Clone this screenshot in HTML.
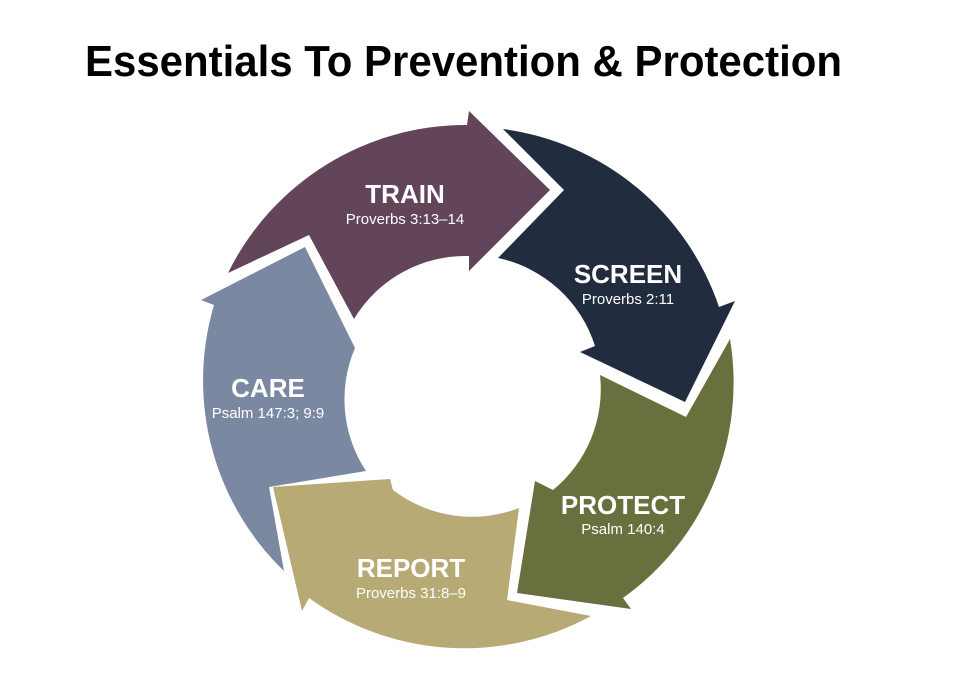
<!DOCTYPE html>
<html><head><meta charset="utf-8"><style>
html,body{margin:0;padding:0;background:#fff;}
svg{display:block;}
text{font-family:"Liberation Sans",sans-serif;}
</style></head><body>
<svg width="958" height="693" viewBox="0 0 958 693" xmlns="http://www.w3.org/2000/svg">
<rect width="958" height="693" fill="#fff"/>
<text x="85" y="76" font-size="44" font-weight="bold" fill="#000" textLength="757" lengthAdjust="spacingAndGlyphs">Essentials To Prevention &amp; Protection</text>

<path d="M228,273 A265 265 0 0 1 467,125 L469,111 L550,190 L469,271 L469,256 A130 130 0 0 0 354,319 L309,235 Z" fill="#624559"/>
<path d="M503,129 A265 265 0 0 1 719,307 L735,301 L685,402 L580,352 L595,346 A130 130 0 0 0 498,258 L564,190 Z" fill="#222c3f"/>
<path d="M730,339 L686,417 L600,375 A130 130 0 0 1 553,490 L535,481 L517,593 L631,609 L623,598 A265 265 0 0 0 730,339 Z" fill="#69703d"/>
<path d="M519,508 L507,600 L591,616 A265 265 0 0 1 309,598 L302,611 L273,487 L390,479 L393,490 A130 130 0 0 0 519,508 Z" fill="#b7aa74"/>
<path d="M284,571 L269,487 L366,471 A130 130 0 0 1 355,348 L305,247 L201,300 L214,305 A265 265 0 0 0 284,571 Z" fill="#7b88a1"/>

<g fill="#fff" text-anchor="middle">
<text x="405" y="203" font-size="26" font-weight="bold">TRAIN</text>
<text x="405" y="224" font-size="15">Proverbs 3:13–14</text>
<text x="628" y="283" font-size="26" font-weight="bold">SCREEN</text>
<text x="628" y="304" font-size="15">Proverbs 2:11</text>
<text x="623" y="514" font-size="26" font-weight="bold">PROTECT</text>
<text x="623" y="534" font-size="15">Psalm 140:4</text>
<text x="411" y="577" font-size="26" font-weight="bold">REPORT</text>
<text x="411" y="598" font-size="15">Proverbs 31:8–9</text>
<text x="268" y="397" font-size="26" font-weight="bold">CARE</text>
<text x="268" y="418" font-size="15">Psalm 147:3; 9:9</text>
</g>
</svg>
</body></html>
